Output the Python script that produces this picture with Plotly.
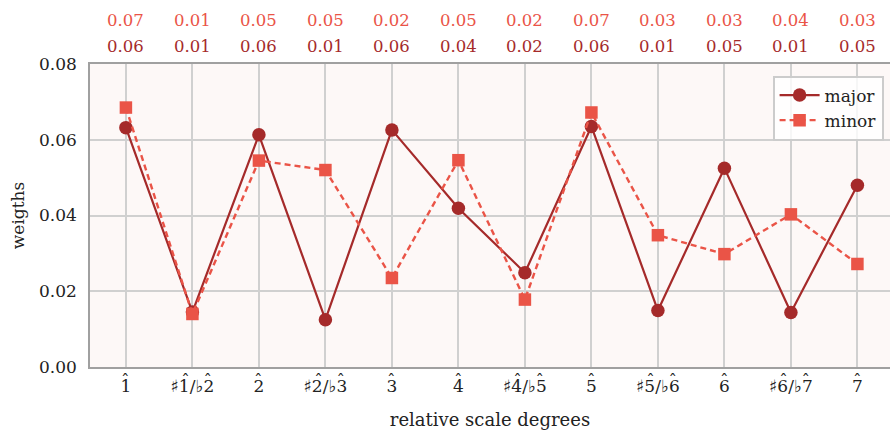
import plotly.graph_objects as go

HAT = "\u0302"
categories = ["1̂", "♯1̂/♭2̂", "2̂", "♯2̂/♭3̂", "3̂", "4̂",
              "♯4̂/♭5̂", "5̂", "♯5̂/♭6̂", "6̂", "♯6̂/♭7̂", "7̂"]
major = [0.0632, 0.0145, 0.0613, 0.0125, 0.0626, 0.0419,
         0.0249, 0.0635, 0.0149, 0.0525, 0.0144, 0.0480]
minor = [0.0685, 0.0140, 0.0545, 0.0520, 0.0235, 0.0546,
         0.0178, 0.0672, 0.0348, 0.0298, 0.0403, 0.0272]
y_ticks = [0.00, 0.02, 0.04, 0.06, 0.08]

MAJ = "#a52a2a"
MIN = "#ea5447"
FONT = "DejaVu Serif"
TXT = "#222222"
TICK_SIZE = 17

x = list(range(len(categories)))

# Base text of each tick label (without combining hats) and a matching hat line
base_labels = [c.replace(HAT, "") for c in categories]


def hat_line(label):
    out = []
    chars = list(label)
    for j, ch in enumerate(chars):
        if ch == HAT:
            continue
        if j + 1 < len(chars) and chars[j + 1] == HAT:
            out.append("ˆ")
        else:
            out.append(f'<span style="color:rgba(0,0,0,0)">{ch}</span>')
    return "".join(out)


fig = go.Figure()
fig.add_trace(go.Scatter(
    x=x, y=major, name="major", mode="lines+markers",
    line=dict(color=MAJ, width=2.2),
    marker=dict(symbol="circle", size=13.5, color=MAJ),
))
fig.add_trace(go.Scatter(
    x=x, y=minor, name="minor", mode="lines+markers",
    line=dict(color=MIN, width=2.4, dash="6px,4px"),
    marker=dict(symbol="square", size=12.5, color=MIN),
))

annotations = []
for i, (ma, mi) in enumerate(zip(major, minor)):
    annotations.append(dict(x=i, y=1, xref="x", yref="paper", text=f"{mi:.2f}",
                            showarrow=False, yanchor="middle", yshift=44,
                            font=dict(family=FONT, size=16.5, color=MIN)))
    annotations.append(dict(x=i, y=1, xref="x", yref="paper", text=f"{ma:.2f}",
                            showarrow=False, yanchor="middle", yshift=18,
                            font=dict(family=FONT, size=16.5, color=MAJ)))
    # circumflex accents over the scale-degree numbers in the tick labels
    annotations.append(dict(x=i, y=0, xref="x", yref="paper", text=hat_line(categories[i]),
                            showarrow=False, yanchor="top", yshift=-2, borderpad=0,
                            font=dict(family=FONT, size=TICK_SIZE, color=TXT)))

fig.update_layout(
    width=890, height=430,
    margin=dict(l=90, r=0, t=64, b=63),
    paper_bgcolor="white",
    plot_bgcolor="#fdf8f7",
    font=dict(family=FONT, size=17, color=TXT),
    annotations=annotations,
    showlegend=True,
    legend=dict(x=0.992, y=0.962, xanchor="right", yanchor="top",
                bgcolor="rgba(255,255,255,0.8)", bordercolor="#cccccc", borderwidth=2,
                font=dict(family=FONT, size=17, color=TXT),
                itemwidth=40, tracegroupgap=0),
)
fig.update_xaxes(
    range=[-0.54, 11.49], tickmode="array", tickvals=x, ticktext=base_labels,
    showgrid=True, gridcolor="#d0d0d0", gridwidth=2,
    showline=True, linecolor="#a0a0a0", linewidth=1.5, mirror=True,
    ticks="", ticklabelstandoff=3, tickfont=dict(family=FONT, size=TICK_SIZE, color=TXT),
    title=dict(text="relative scale degrees", font=dict(family=FONT, size=18, color=TXT), standoff=18),
    zeroline=False,
)
fig.update_yaxes(
    range=[0, 0.08], tickmode="array", tickvals=y_ticks,
    ticktext=[f"{v:.2f}" for v in y_ticks],
    showgrid=True, gridcolor="#d0d0d0", gridwidth=2,
    showline=True, linecolor="#a0a0a0", linewidth=1.5,
    ticks="", ticklabelstandoff=8, tickfont=dict(family=FONT, size=17, color=TXT),
    title=dict(text="weigths", font=dict(family=FONT, size=17, color=TXT), standoff=10),
    zeroline=False,
)

fig.write_html("out.html")
